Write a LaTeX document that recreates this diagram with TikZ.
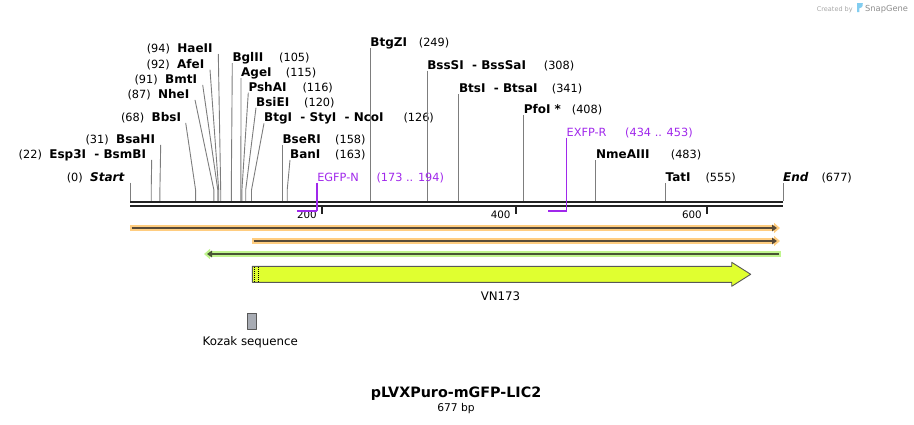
\documentclass[tikz,border=0pt]{standalone}
\usepackage{fontspec}
\setmainfont{DejaVu Sans}
\usetikzlibrary{arrows.meta}
\definecolor{leadgray}{RGB}{125,125,125}
\definecolor{bbline}{RGB}{34,34,34}
\definecolor{primerpurple}{RGB}{160,40,235}
\definecolor{orangehalo}{RGB}{255,205,128}
\definecolor{orangecore}{RGB}{88,74,56}
\definecolor{greenhalo}{RGB}{192,245,142}
\definecolor{greencore}{RGB}{72,84,52}
\definecolor{vnfill}{RGB}{224,255,48}
\definecolor{featline}{RGB}{88,88,88}
\definecolor{kozakfill}{RGB}{168,172,180}
\definecolor{logoblue}{RGB}{130,205,240}
\begin{document}
\begin{tikzpicture}[x=1pt,y=-1pt,line join=round,
	enz/.style={inner sep=0pt,font=\fontsize{12}{14}\selectfont\bfseries},
	num/.style={inner sep=0pt,font=\fontsize{11.3}{13}\selectfont},
	leader/.style={draw=leadgray,line width=0.9pt},
	primer/.style={draw=primerpurple,line width=1.3pt},
	bptick/.style={draw=bbline,line width=2pt},
	halo/.style={line width=5.6pt,-{Triangle[length=6pt,width=10pt]}},
	core/.style={line width=2pt,-{Triangle[length=5pt,width=6.5pt]}}]
	\useasboundingbox (0,0) rectangle (914,424);
	% sites on the backbone
	\coordinate (s0) at (130,201);
	\coordinate (s22) at (151.2,201);
	\coordinate (s31) at (159.9,201);
	\coordinate (s68) at (195.6,201);
	\coordinate (s87) at (213.9,201);
	\coordinate (s91) at (217.8,201);
	\coordinate (s92) at (218.7,201);
	\coordinate (s94) at (220.7,201);
	\coordinate (s105) at (231.3,201);
	\coordinate (s115) at (240.9,201);
	\coordinate (s116) at (241.9,201);
	\coordinate (s120) at (245.7,201);
	\coordinate (s126) at (251.5,201);
	\coordinate (s158) at (282.4,201);
	\coordinate (s163) at (287.2,201);
	\coordinate (s249) at (370.2,201);
	\coordinate (s308) at (427.1,201);
	\coordinate (s341) at (458.9,201);
	\coordinate (s408) at (523.6,201);
	\coordinate (s483) at (595.9,201);
	\coordinate (s555) at (665.4,201);
	\coordinate (s677) at (783,201);
	% left labels
	\node[enz,anchor=base east] (haeii) at (212.8,52.5) {HaeII};
	\node[num,anchor=base east] at ([xshift=-7pt]haeii.base west) {(94)};
	\node[enz,anchor=base east] (afei) at (204.5,68.2) {AfeI};
	\node[num,anchor=base east] at ([xshift=-7pt]afei.base west) {(92)};
	\node[enz,anchor=base east] (bmti) at (197.2,83.4) {BmtI};
	\node[num,anchor=base east] at ([xshift=-7pt]bmti.base west) {(91)};
	\node[enz,anchor=base east] (nhei) at (189.5,98.4) {NheI};
	\node[num,anchor=base east] at ([xshift=-7pt]nhei.base west) {(87)};
	\node[enz,anchor=base east] (bbsi) at (181.2,121.4) {BbsI};
	\node[num,anchor=base east] at ([xshift=-7pt]bbsi.base west) {(68)};
	\node[enz,anchor=base east] (bsahi) at (155.2,143.4) {BsaHI};
	\node[num,anchor=base east] at ([xshift=-7pt]bsahi.base west) {(31)};
	\node[enz,anchor=base east] (esp3i) at (146.2,158.4) {Esp3I\ \ - BsmBI};
	\node[num,anchor=base east] at ([xshift=-7pt]esp3i.base west) {(22)};
	\node[enz,anchor=base east] (start) at (124.5,181.2) {\itshape Start};
	\node[num,anchor=base east] at ([xshift=-7pt]start.base west) {(0)};
	\draw[leader] ([xshift=5.5pt,yshift=-1.5pt]haeii.base east) -- ([yshift=11pt]s94) -- (s94);
	\draw[leader] ([xshift=5.5pt,yshift=-1.5pt]afei.base east) -- ([yshift=11pt]s92) -- (s92);
	\draw[leader] ([xshift=5.5pt,yshift=-1.5pt]bmti.base east) -- ([yshift=11pt]s91) -- (s91);
	\draw[leader] ([xshift=5.5pt,yshift=-1.5pt]nhei.base east) -- ([yshift=11pt]s87) -- (s87);
	\draw[leader] ([xshift=4.5pt,yshift=-1.5pt]bbsi.base east) -- ([yshift=11pt]s68) -- (s68);
	\draw[leader] ([xshift=5.5pt,yshift=-1.5pt]bsahi.base east) -- ([yshift=11pt]s31) -- (s31);
	\draw[leader] ([xshift=5.5pt,yshift=-1.5pt]esp3i.base east) -- ([yshift=11pt]s22) -- (s22);
	\draw[leader] ([xshift=5.5pt,yshift=-1.5pt]start.base east) -- (s0);
	% right labels
	\node[enz,anchor=base west] (bglii) at (232.3,61.5) {BglII};
	\node[num,anchor=base west] at (279,61.5) {(105)};
	\node[enz,anchor=base west] (agei) at (241,76.5) {AgeI};
	\node[num,anchor=base west] at (285.7,76.5) {(115)};
	\node[enz,anchor=base west] (pshai) at (248.3,91.2) {PshAI};
	\node[num,anchor=base west] at (302.3,91.2) {(116)};
	\node[enz,anchor=base west] (bsiei) at (256,106.2) {BsiEI};
	\node[num,anchor=base west] at (304,106.2) {(120)};
	\node[enz,anchor=base west] (btgi) at (264,121.8) {BtgI\ \ - StyI\ \ - NcoI};
	\node[num,anchor=base west] at (403.3,121.8) {(126)};
	\node[enz,anchor=base west] (bseri) at (282.4,143.5) {BseRI};
	\node[num,anchor=base west] at (335,143.5) {(158)};
	\node[enz,anchor=base west] (bani) at (290,158.5) {BanI};
	\node[num,anchor=base west] at (335,158.5) {(163)};
	\node[enz,anchor=base west] (btgzi) at (370.2,46.8) {BtgZI};
	\node[num,anchor=base west] at (418.7,46.8) {(249)};
	\node[enz,anchor=base west] (bsssi) at (427.1,69.2) {BssSI\ \ - BssSaI};
	\node[num,anchor=base west] at (543.7,69.2) {(308)};
	\node[enz,anchor=base west] (btsi) at (458.9,92.5) {BtsI\ \ - BtsaI};
	\node[num,anchor=base west] at (551.7,92.5) {(341)};
	\node[enz,anchor=base west] (pfoi) at (523.6,113.5) {PfoI *};
	\node[num,anchor=base west] at (571.7,113.5) {(408)};
	\node[enz,anchor=base west] (nmeaiii) at (595.9,158.5) {NmeAIII};
	\node[num,anchor=base west] at (670.7,158.5) {(483)};
	\node[enz,anchor=base west] (tati) at (665.4,181.5) {TatI};
	\node[num,anchor=base west] at (705.3,181.5) {(555)};
	\node[enz,anchor=base west] (endlbl) at (783,181.5) {\itshape End};
	\node[num,anchor=base west] at (821.3,181.5) {(677)};
	\draw[leader] ([yshift=-1.5pt]bglii.base west) -- ([yshift=11pt]s105) -- (s105);
	\draw[leader] ([yshift=-1.5pt]agei.base west) -- ([yshift=11pt]s115) -- (s115);
	\draw[leader] ([yshift=-1.5pt]pshai.base west) -- ([yshift=11pt]s116) -- (s116);
	\draw[leader] ([yshift=-1.5pt]bsiei.base west) -- ([yshift=11pt]s120) -- (s120);
	\draw[leader] ([yshift=-1.5pt]btgi.base west) -- ([yshift=11pt]s126) -- (s126);
	\draw[leader] ([yshift=-1.5pt]bseri.base west) -- (s158);
	\draw[leader] ([yshift=-1.5pt]bani.base west) -- ([yshift=11pt]s163) -- (s163);
	\draw[leader] ([yshift=-1.5pt]btgzi.base west) -- (s249);
	\draw[leader] ([yshift=-1.5pt]bsssi.base west) -- (s308);
	\draw[leader] ([yshift=-1.5pt]btsi.base west) -- (s341);
	\draw[leader] ([yshift=-1.5pt]pfoi.base west) -- (s408);
	\draw[leader] ([yshift=-1.5pt]nmeaiii.base west) -- (s483);
	\draw[leader] ([yshift=-1.5pt]tati.base west) -- (s555);
	\draw[leader] ([yshift=-1.5pt]endlbl.base west) -- (s677);
	% backbone and ruler
	\draw[bbline,line width=2.3pt] (130,202.2) -- (783,202.2);
	\draw[bbline,line width=2.3pt] (130,206.2) -- (783,206.2);
	\coordinate (t200) at (321.8,207);
	\coordinate (t400) at (515.5,207);
	\coordinate (t600) at (706.8,207);
	\draw[bptick] (t200) -- ++(0,7.3) node[num,font=\fontsize{10.3}{12}\selectfont,anchor=base east,xshift=-4pt,yshift=-4.5pt] (l200) {200};
	\draw[bptick] (t400) -- ++(0,7.3) node[num,font=\fontsize{10.3}{12}\selectfont,anchor=base east,xshift=-4pt,yshift=-4.5pt] (l400) {400};
	\draw[bptick] (t600) -- ++(0,7.3) node[num,font=\fontsize{10.3}{12}\selectfont,anchor=base east,xshift=-4pt,yshift=-4.5pt] (l600) {600};
	% primers
	\node[num,text=primerpurple,anchor=base west] (egfpn) at (317.1,181.5) {EGFP-N};
	\node[num,text=primerpurple,anchor=base west] at (376.3,181.5) {(173 .. 194)};
	\node[num,text=primerpurple,anchor=base west] (exfpr) at (566.5,136.5) {EXFP-R};
	\node[num,text=primerpurple,anchor=base west] at (625,136.5) {(434 .. 453)};
	\coordinate (p173) at (296.9,210.8);
	\coordinate (p194) at (317.1,210.8);
	\coordinate (p434) at (548.3,210.8);
	\coordinate (p453) at (566.5,210.8);
	\draw[primer] ([yshift=-1pt]egfpn.base west) -- (p194);
	\draw[primer,line width=2.2pt] (p194) -- (p173);
	\draw[primer] ([yshift=-1pt]exfpr.base west) -- (p453);
	\draw[primer,line width=2.2pt] (p453) -- (p434);
	% features
	\draw[halo,orangehalo] (130,228) -- (780,228);
	\draw[core,orangecore] (131.5,228) -- (777,228);
	\draw[halo,orangehalo] (252,241) -- (780,241);
	\draw[core,orangecore] (253.5,241) -- (777,241);
	\draw[halo,greenhalo] (781,254) -- (204,254);
	\draw[core,greencore] (779,254) -- (207,254);
	\draw[featline,fill=vnfill,line width=0.9pt] (252.3,266.3) -- (731.7,266.3) -- (731.7,262.3) -- (750.7,274.3) -- (731.7,286.3) -- (731.7,282.3) -- (252.3,282.3) -- cycle;
	\draw[black,line width=0.8pt,dash pattern=on 1pt off 1pt] (254.3,266.8) -- (254.3,281.8);
	\draw[black,line width=0.8pt,dash pattern=on 1pt off 1pt] (258.7,266.8) -- (258.7,281.8);
	\node[num,font=\fontsize{11.8}{14}\selectfont,anchor=base] (vn) at (500.5,300.3) {VN173};
	\draw[featline,fill=kozakfill,line width=0.9pt] (247.3,313.3) rectangle (256.7,329);
	\node[num,font=\fontsize{11.8}{14}\selectfont,anchor=base] (kozak) at (250.3,345.6) {Kozak sequence};
	% title
	\node[inner sep=0pt,font=\fontsize{14.3}{16}\selectfont\bfseries,anchor=base] (title) at (456,397.5) {pLVXPuro-mGFP-LIC2};
	\node[inner sep=0pt,font=\fontsize{10.7}{12}\selectfont,anchor=base] (size) at (456,411.5) {677 bp};
	\node[inner sep=0pt,font=\fontsize{6.5}{8}\selectfont,text=black!35,anchor=base west] (created) at (816.7,11) {Created by};
	\fill[logoblue] (857,3.2) -- (862.8,3.2) .. controls (862.8,7.5) and (861,8.2) .. (859.4,8.2) -- (859.4,12) -- (857,12) -- cycle;
	\node[inner sep=0pt,font=\fontsize{8.3}{10}\selectfont,text=black!45,anchor=base west] (snapgene) at (865,11) {SnapGene};
\end{tikzpicture}
\end{document}
